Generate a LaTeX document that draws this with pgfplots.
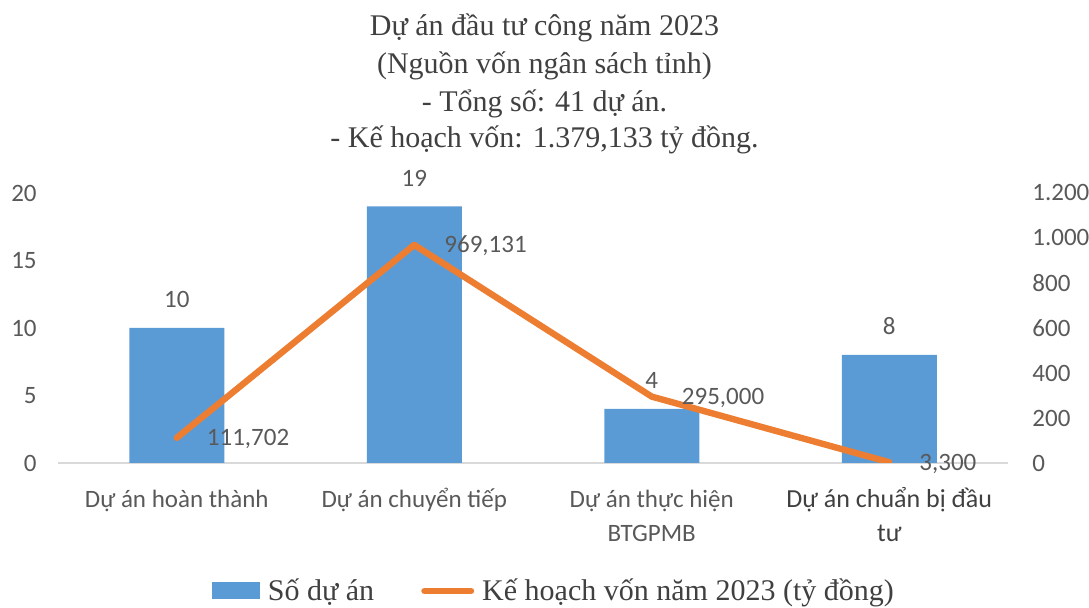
\documentclass[border=0pt]{standalone}
\usepackage{fontspec}
\setmainfont{Liberation Serif}
\newfontfamily\sans{Carlito}
\usepackage{pgfplots}
\pgfplotsset{compat=1.18}
\definecolor{barblue}{HTML}{5B9BD5}
\definecolor{lineorange}{HTML}{ED7D31}
\definecolor{txtgray}{HTML}{595959}
\definecolor{ttlgray}{HTML}{404040}
\definecolor{axgray}{HTML}{D9D9D9}
\newcommand\tickfont{\sans\fontsize{12.5}{17}\selectfont}
\newcommand\catfour{\sans\fontsize{13}{17}\selectfont\color{ttlgray}}
\begin{document}
\begin{tikzpicture}
\useasboundingbox (0,0) rectangle (544.5pt,304pt);
\begin{scope}[every node/.style={anchor=base, inner sep=0pt, font=\fontsize{15}{18}\selectfont, text=ttlgray}]
\node at (272.25pt,286pt) {Dự án đầu tư công năm 2023};
\node at (272.25pt,267pt) {(Nguồn vốn ngân sách tỉnh)};
\node at (272.25pt,248pt) {- Tổng số: 41 dự án.};
\node at (272.25pt,230pt) {- Kế hoạch vốn: 1.379,133 tỷ đồng.};
\end{scope}
\begin{axis}[
  at={(29pt,72.5pt)}, anchor=south west,
  scale only axis, width=475pt, height=135pt,
  xmin=-0.5, xmax=3.5, ymin=0, ymax=20,
  axis x line=bottom, axis y line=left,
  x axis line style={draw=axgray, line width=1pt, -},
  y axis line style={draw=none},
  major tick length=0pt,
  /pgf/number format/assume math mode=true,
  xtick={0,1,2,3},
  xticklabels={{\rule{0pt}{13pt}Dự án hoàn thành},
               {\rule{0pt}{13pt}Dự án chuyển tiếp},
               {\rule{0pt}{13pt}Dự án thực hiện\\BTGPMB},
               {\catfour\rule{0pt}{13pt}Dự án chuẩn bị đầu\\\catfour tư}},
  xticklabel style={align=center, anchor=north, inner sep=0pt, yshift=-9pt, font=\tickfont, text=txtgray},
  ytick={0,5,10,15,20},
  yticklabels={0,5,10,15,20},
  yticklabel style={anchor=east, inner sep=0pt, xshift=-10.5pt, font=\tickfont, text=txtgray},
  legend columns=2,
  legend style={at={(0.1621,-0.474)}, anchor=west, draw=none, fill=none,
    inner sep=0pt, outer sep=0pt, font=\fontsize{15}{18}\selectfont, text=ttlgray,
    nodes={inner sep=0pt},
    /tikz/every odd column/.append style={column sep=4pt},
    /tikz/every even column/.append style={column sep=23.5pt}},
]
\addplot[ybar, bar width=0.4, fill=barblue, draw=none,
  legend image code/.code={\fill[barblue] (0pt,-4.25pt) rectangle (24pt,4.25pt);},
  nodes near coords,
  nodes near coords style={font=\tickfont, text=txtgray, anchor=south, inner sep=0pt, yshift=10pt}]
  coordinates {(0,10) (1,19) (2,4) (3,8)};
\addlegendentry{Số dự án}
\addlegendimage{legend image code/.code={\draw[lineorange, line width=3.2pt, line cap=round] (1.6pt,0pt) -- (24.9pt,0pt);}}
\addlegendentry{Kế hoạch vốn năm 2023 (tỷ đồng)}
\end{axis}
\begin{axis}[
  at={(29pt,72.5pt)}, anchor=south west,
  scale only axis, width=475pt, height=135pt,
  xmin=-0.5, xmax=3.5, ymin=0, ymax=1200,
  axis x line=none, axis y line=right,
  y axis line style={draw=none},
  major tick length=0pt,
  ytick={0,200,400,600,800,1000,1200},
  yticklabels={0,200,400,600,800,1.000,1.200},
  yticklabel style={anchor=west, inner sep=0pt, xshift=12pt, font=\tickfont, text=txtgray},
]
\addplot[lineorange, line width=3.2pt, line cap=round, line join=round, mark=none,
  nodes near coords, point meta=explicit symbolic,
  nodes near coords style={font=\tickfont, text=txtgray, anchor=base west, inner sep=0pt, xshift=13.5pt, yshift=-4pt}]
  table[meta=lbl] {
x y lbl
0 111.702 111,702
1 969.131 969,131
2 295.000 295,000
3 3.300 3,300
};
\end{axis}
\end{tikzpicture}
\end{document}
